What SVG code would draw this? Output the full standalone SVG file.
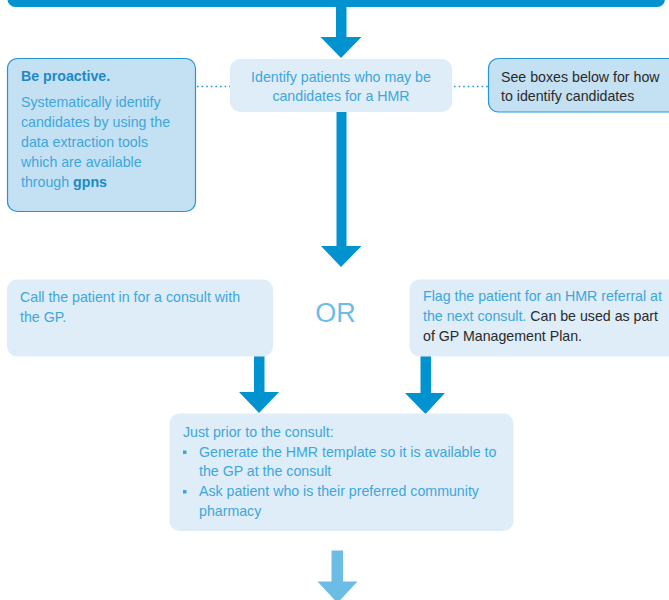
<svg xmlns="http://www.w3.org/2000/svg" width="669" height="600" viewBox="0 0 669 600">
<defs>
<style>
text{font-family:"Liberation Sans",Arial,sans-serif;font-size:14.2px}
.lt{fill:#3da7dc}
.dk{fill:#2a2a2a}
.b{font-weight:bold}
.pale{fill:#deedf8}
.mid{fill:#c4e1f3;stroke:#2397d3;stroke-width:1.2}
.arr{fill:#0093d0}
.arr2{fill:#6bbde6}
.dot{stroke:#2397d3;stroke-width:1.6;stroke-dasharray:1.6 3;fill:none}
</style>
</defs>
<rect x="7.5" y="-30" width="657.5" height="37" rx="8" fill="#0093d0"/>
<g id="connectors">
<line class="dot" x1="197" y1="86.5" x2="230" y2="86.5"/>
<line class="dot" x1="454" y1="86.5" x2="488" y2="86.5"/>
<path class="arr" d="M336 6 H346.5 V37 H361.5 L341 58 L320.5 37 H336 Z"/>
<path class="arr" d="M336.5 111 H346.5 V246 H361.5 L341 267 L321 246 H336.5 Z"/>
<path class="arr" d="M254 356 H264.5 V392 H279 L259 413 L239 392 H254 Z"/>
<path class="arr" d="M420.5 356 H431 V393 H445 L425.5 414 L405 393 H420.5 Z"/>
<path class="arr2" d="M331.5 550.5 H343 V581.5 H357.5 L337.5 603 L317.5 581.5 H331.5 Z"/>
</g>
<g id="proactive">
<rect class="mid" x="7.5" y="58.5" width="188" height="153" rx="10"/>
<text x="21" y="81" class="b" fill="#1a8ac7">Be proactive.</text>
<text x="21" y="106.5" class="lt">Systematically identify</text>
<text x="21" y="126.5" class="lt">candidates by using the</text>
<text x="21" y="146.5" class="lt">data extraction tools</text>
<text x="21" y="166.5" class="lt">which are available</text>
<text x="21" y="186.5" class="lt">through <tspan class="b" fill="#1a8ac7">gpns</tspan></text>
</g>
<g id="identify">
<rect class="pale" x="230" y="59" width="222" height="53" rx="10"/>
<text x="341" y="81.5" class="lt" text-anchor="middle">Identify patients who may be</text>
<text x="341" y="101" class="lt" text-anchor="middle">candidates for a HMR</text>
</g>
<g id="seeboxes">
<rect class="mid" x="488.5" y="58.5" width="195" height="53.5" rx="10"/>
<text x="501" y="81.5" class="dk">See boxes below for how</text>
<text x="501" y="101" class="dk">to identify candidates</text>
</g>
<g id="call">
<rect class="pale" x="7" y="279.5" width="266" height="77" rx="10"/>
<text x="20" y="301.5" class="lt">Call the patient in for a consult with</text>
<text x="20" y="321.5" class="lt">the GP.</text>
</g>
<g id="or">
<text x="335.5" y="321.5" text-anchor="middle" fill="#6bbde6" style="font-size:27px">OR</text>
</g>
<g id="flag">
<rect class="pale" x="409.5" y="279.5" width="275" height="77" rx="10"/>
<text x="423" y="301" class="lt">Flag the patient for an HMR referral at</text>
<text x="423" y="321" class="lt">the next consult. <tspan class="dk">Can be used as part</tspan></text>
<text x="423" y="341" class="dk">of GP Management Plan.</text>
</g>
<g id="prior">
<rect class="pale" x="169.5" y="413.5" width="344" height="117.5" rx="10"/>
<text x="183" y="436.5" class="lt">Just prior to the consult:</text>
<rect x="183" y="450.5" width="3.5" height="3.5" fill="#3da7dc"/>
<text x="199" y="456.5" class="lt">Generate the HMR template so it is available to</text>
<text x="199" y="476" class="lt">the GP at the consult</text>
<rect x="183" y="490" width="3.5" height="3.5" fill="#3da7dc"/>
<text x="199" y="496" class="lt">Ask patient who is their preferred community</text>
<text x="199" y="516" class="lt">pharmacy</text>
</g>
</svg>
